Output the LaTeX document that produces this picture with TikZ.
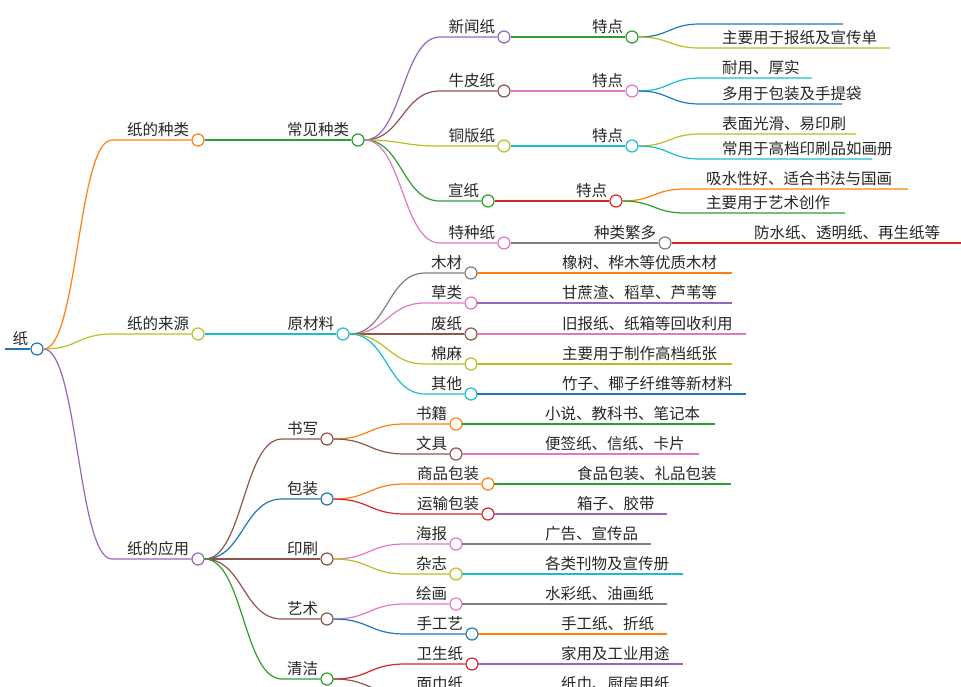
\documentclass[tikz,border=0pt]{standalone}
\usepackage{fontspec}
\setmainfont{Noto Sans CJK SC}
\usetikzlibrary{calc}

\definecolor{cpurple}{HTML}{9467BD}
\definecolor{cbrown}{HTML}{8C564B}
\definecolor{colive}{HTML}{BCBD22}
\definecolor{cgreen}{HTML}{2CA02C}
\definecolor{cpink}{HTML}{E377C2}
\definecolor{ccyan}{HTML}{17BECF}
\definecolor{corange}{HTML}{FF7F0E}
\definecolor{cblue}{HTML}{1F77B4}
\definecolor{cred}{HTML}{D62728}
\definecolor{cgray}{HTML}{7F7F7F}

\tikzset{
  edge/.style={line width=1.2pt},
  dot/.style={draw=#1, fill=white, circle, line width=1.2pt, minimum size=12pt, inner sep=0pt},
  lbl/.style={font=\fontsize{15.5pt}{16pt}\selectfont, text=black!85, inner sep=0pt}
}

% child: parent, name, cx, cy, startx, colour, label
\newcommand\kid[7]{%
  \node[dot=#6] (#2) at (#3,#4) {};
  \draw[edge,#6] let \p1=(#1.east), \p2=(#5,#4) in
    (\p1) .. controls ($(\x1/2+\x2/2,\y1)$) and ($(\x1/2+\x2/2,\y2)$) .. (\p2) -- (#2.west);
  \node[lbl, anchor=base east] (#2-t) at ([xshift=-2pt,yshift=5pt]#2.west) {#7};
}
% leaf: parent, name, y, startx, endx, colour, label, textx
\newcommand\leaf[8]{%
  \coordinate (#2) at (#5,#3);
  \draw[edge,#6] let \p1=(#1.east), \p2=(#4,#3) in
    (\p1) .. controls ($(\x1/2+\x2/2,\y1)$) and ($(\x1/2+\x2/2,\y2)$) .. (\p2) -- (#2);
  \node[lbl, anchor=base west] (#2-t) at (#8,#3-5) {#7};
}

\begin{document}
\begin{tikzpicture}[x=1pt, y=-1pt]

\useasboundingbox (0,0) rectangle (961,686);
\clip (0,0) rectangle (961,686);

% ROOT
\coordinate (start) at (5,349);
\node[dot=cblue] (root) at (37,349) {};
\draw[cblue, line width=2.5pt] (start) -- (root.west);
\node[lbl, anchor=base east] (root-t) at ([xshift=-2pt,yshift=5pt]root.west) {纸};

% KINDS
\kid{root}{kinds}{198}{140}{112}{corange}{纸的种类}
\kid{kinds}{common}{358}{140}{270}{cgreen}{常见种类}
\kid{common}{news}{504}{37}{440}{cpurple}{新闻纸}
\kid{common}{kraft}{504}{91}{440}{cbrown}{牛皮纸}
\kid{common}{coated}{504}{146}{440}{colive}{铜版纸}
\kid{common}{xuan}{488}{201}{440}{cgreen}{宣纸}
\kid{common}{special}{504}{243}{440}{cpink}{特种纸}
\kid{news}{newsf}{632}{37}{560}{cgreen}{特点}
\kid{kraft}{kraftf}{632}{91}{560}{cpink}{特点}
\kid{coated}{coatedf}{632}{146}{560}{ccyan}{特点}
\kid{xuan}{xuanf}{616}{201}{545}{cred}{特点}
\kid{special}{specialf}{665}{243}{580}{cgray}{种类繁多}
\leaf{newsf}{n1}{24}{700}{843}{cblue}{}{722}
\leaf{newsf}{n2}{48}{700}{890}{colive}{主要用于报纸及宣传单}{722}
\leaf{kraftf}{k1}{78}{700}{812}{ccyan}{耐用、厚实}{722}
\leaf{kraftf}{k2}{104}{700}{842}{cblue}{多用于包装及手提袋}{722}
\leaf{coatedf}{c1}{134}{700}{856}{colive}{表面光滑、易印刷}{722}
\leaf{coatedf}{c2}{159}{700}{872}{ccyan}{常用于高档印刷品如画册}{722}
\leaf{xuanf}{x1}{189}{685}{908}{corange}{吸水性好、适合书法与国画}{706}
\leaf{xuanf}{x2}{213}{685}{845}{cgreen}{主要用于艺术创作}{706}
\leaf{specialf}{s1}{243}{700}{961}{cred}{防水纸、透明纸、再生纸等}{754}

% SOURCES
\kid{root}{source}{198}{334}{112}{colive}{纸的来源}
\kid{source}{raw}{343}{334}{270}{ccyan}{原材料}
\kid{raw}{wood}{471}{273}{425}{cgray}{木材}
\kid{raw}{grass}{471}{303}{425}{cpink}{草类}
\kid{raw}{waste}{471}{334}{425}{cbrown}{废纸}
\kid{raw}{cotton}{471}{364}{425}{colive}{棉麻}
\kid{raw}{other}{471}{394}{425}{ccyan}{其他}
\leaf{wood}{w1}{273}{477}{732}{corange}{橡树、桦木等优质木材}{562}
\leaf{grass}{g1}{303}{477}{732}{cpurple}{甘蔗渣、稻草、芦苇等}{562}
\leaf{waste}{p1}{334}{477}{746}{cpink}{旧报纸、纸箱等回收利用}{562}
\leaf{cotton}{m1}{364}{477}{732}{colive}{主要用于制作高档纸张}{562}
\leaf{other}{o1}{394}{477}{746}{cblue}{竹子、椰子纤维等新材料}{562}

% USES
\kid{root}{use}{198}{559}{112}{cpurple}{纸的应用}
\kid{use}{write}{327}{439}{282}{cbrown}{书写}
\kid{use}{pack}{327}{499}{282}{cblue}{包装}
\kid{use}{print}{327}{559}{282}{cbrown}{印刷}
\kid{use}{art}{327}{619}{282}{cbrown}{艺术}
\kid{use}{clean}{327}{679}{282}{cgreen}{清洁}
\kid{write}{book}{456}{424}{405}{corange}{书籍}
\kid{write}{stat}{456}{454}{405}{cbrown}{文具}
\kid{pack}{goods}{488}{484}{405}{corange}{商品包装}
\kid{pack}{ship}{488}{514}{405}{cred}{运输包装}
\kid{print}{poster}{456}{544}{405}{cpink}{海报}
\kid{print}{mag}{456}{574}{405}{colive}{杂志}
\kid{art}{paint}{456}{604}{405}{cpink}{绘画}
\kid{art}{craft}{472}{634}{405}{cblue}{手工艺}
\kid{clean}{toilet}{472}{664}{405}{cred}{卫生纸}
\kid{clean}{tissue}{472}{694}{405}{cbrown}{面巾纸}
\leaf{book}{b1}{424}{462}{715}{cgreen}{小说、教科书、笔记本}{545}
\leaf{stat}{b2}{454}{462}{699}{cpink}{便签纸、信纸、卡片}{545}
\leaf{goods}{b3}{484}{494}{731}{cgreen}{食品包装、礼品包装}{577}
\leaf{ship}{b4}{514}{494}{667}{cpurple}{箱子、胶带}{577}
\leaf{poster}{b5}{544}{462}{651}{cgray}{广告、宣传品}{545}
\leaf{mag}{b6}{574}{462}{683}{ccyan}{各类刊物及宣传册}{545}
\leaf{paint}{b7}{604}{462}{667}{cgray}{水彩纸、油画纸}{545}
\leaf{craft}{b8}{634}{478}{667}{corange}{手工纸、折纸}{561}
\leaf{toilet}{b9}{664}{478}{683}{cpurple}{家用及工业用途}{561}
\leaf{tissue}{b10}{694}{478}{683}{cgray}{纸巾、厨房用纸}{561}

\end{tikzpicture}
\end{document}
